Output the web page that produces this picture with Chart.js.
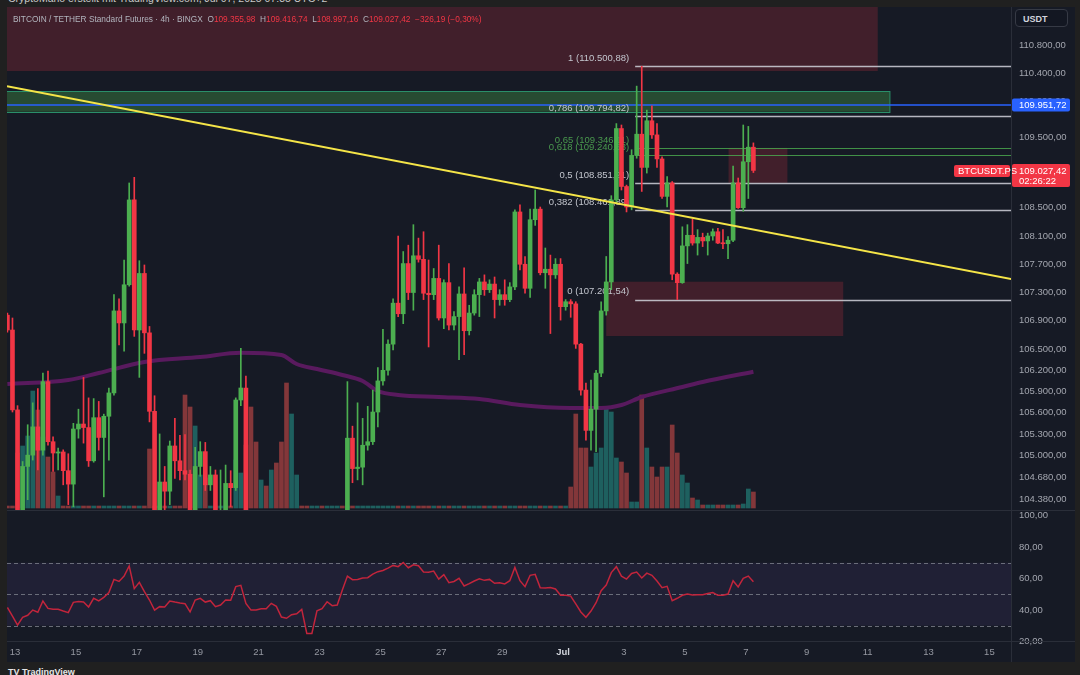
<!DOCTYPE html>
<html>
<head>
<meta charset="utf-8">
<title>BTCUSDT.PS 4h</title>
<script src="https://cdn.jsdelivr.net/npm/chart.js@4.4.1/dist/chart.umd.min.js"></script>
<style>
  html, body { margin: 0; padding: 0; }
  body { width: 1080px; height: 675px; background: #202020; position: relative; overflow: hidden;
         font-family: 'Liberation Sans', Arial, sans-serif; }
  #panel { position: absolute; left: 7px; top: 7px; width: 1068px; height: 655px; background: #161a25; }
  canvas { position: absolute; left: 7px; }
  #priceChart { top: 7px; }
  #rsiChart { top: 510px; }
  .sep { position: absolute; background: #2a2e39; }
  #watermark { position: absolute; left: 8px; top: -8px; font-size: 10.5px; color: #c9c9c9; white-space: nowrap; }
  #header { position: absolute; left: 13px; top: 14px; font-size: 8.3px; color: #b2b5be; white-space: pre; }
  #header .r { color: #f23645; }
  #unit { position: absolute; left: 1015px; top: 9px; width: 53px; height: 18px; border: 1px solid #363a45;
          border-radius: 4px; background: #131722; color: #d1d4dc; font-size: 9px; font-weight: bold;
          line-height: 18px; padding-left: 7px; box-sizing: border-box; }
  #logo { position: absolute; left: 8px; top: 667px; font-size: 9px; color: #e6e6e6; font-weight: bold; white-space: nowrap; }
</style>
</head>
<body>
<div id="panel"></div>
<canvas id="priceChart" width="1068" height="503"></canvas>
<canvas id="rsiChart" width="1068" height="152"></canvas>
<div class="sep" style="left:7px;top:510px;width:1068px;height:1px"></div>
<div class="sep" style="left:7px;top:641px;width:1068px;height:1px"></div>
<div class="sep" style="left:1011px;top:7px;width:1px;height:655px"></div>
<div id="watermark">CryptoMano erstellt mit TradingView.com, Jul 07, 2025 07:35 UTC+2</div>
<div id="header"></div>
<div id="unit">USDT</div>
<div id="logo">TV TradingView</div>
<script>
// 4h-Kerzen, Index 0 = 12. Juni 18:00 (UTC+2), Index 147 = 7. Juli 06:00
const candleOpen = [
  106980, 106770, 105640, 103940, 104840, 105000, 105400, 105070, 106040, 105190,
  105030, 105045, 104780, 104590, 105370, 105440, 105390, 104920, 105530, 105250,
  105550, 105880, 107040, 106870, 107410, 108610, 106770, 107570, 106730, 105620,
  104080, 104620, 104490, 105130, 104920, 104780, 104730, 104080, 104840, 105050,
  104580, 104720, 103950, 104150, 104600, 104540, 105780, 105950, 103900, 103500,
  103200, 103600, 103100, 103300, 102700, 102000, 100300, 101000, 101200, 99500,
  99000, 100600, 101900, 101500, 102100, 103400, 103800, 103600, 105240, 104810,
  104830, 105140, 105190, 105610, 106050, 106200, 106570, 107150, 107000, 107710,
  107300, 107820, 107770, 107290, 107270, 107500, 106940, 107440, 106840, 106960,
  107280, 106760, 107010, 107270, 107450, 107340, 107420, 107200, 107270, 107200,
  107380, 108440, 107700, 107360, 108330, 108480, 107580, 107630, 107550, 107700,
  107100, 107170, 107140, 106570, 105920, 105350, 105650, 106160, 107040, 107450,
  108610, 109620, 108800, 108510, 109240, 109540, 109070, 109730, 109530, 109190,
  108660, 108850, 107560, 107440, 107960, 108110, 108000, 108080, 108030, 108100,
  108160, 108000, 107990, 108040, 108850, 108500, 109150, 109355.98
];
const candleHigh = [
  107010, 106940, 105700, 104910, 105430, 105740, 105940, 106160, 106190, 105260,
  105100, 105075, 105020, 105450, 105650, 106100, 105810, 105800, 105760, 105580,
  105950, 107270, 107210, 107760, 108850, 108930, 107750, 107690, 106820, 105840,
  105300, 104840, 105200, 105520, 105280, 105290, 104790, 105110, 105190, 105180,
  104840, 104790, 104790, 104860, 104780, 105810, 106510, 106120, 104150, 103800,
  103900, 103800, 103500, 103400, 102900, 102200, 101400, 101600, 101300, 100200,
  100900, 102200, 102300, 102500, 103700, 104100, 104050, 106040, 105410, 105740,
  105520, 105690, 105920, 106240, 106780, 106630, 107210, 108100, 107880, 107970,
  108260, 108070, 108160, 107760, 107640, 107970, 107480, 107710, 107030, 107380,
  107650, 107120, 107340, 107500, 107550, 107480, 107520, 107340, 107480, 107440,
  108470, 108540, 107810, 108480, 108750, 108510, 107930, 107830, 107780, 107780,
  107200, 107200, 107170, 106580, 106020, 106060, 106200, 107170, 107810, 108670,
  109690, 109670, 108820, 109320, 110220, 110500, 109880, 109940, 109690, 109220,
  108940, 108870, 107580, 108230, 108260, 108340, 108190, 108140, 108140, 108200,
  108210, 108190, 108090, 109090, 108920, 109670, 109650, 109416.74
];
const candleLow = [
  106740, 105610, 103700, 103520, 104370, 104930, 104790, 105000, 105140, 104770,
  104790, 104580, 104300, 104270, 105240, 105170, 104840, 104900, 105070, 104410,
  104930, 105850, 106560, 106470, 107390, 106680, 106100, 106440, 105470, 103800,
  103800, 104100, 104300, 104670, 104650, 104650, 103940, 103940, 104700, 104500,
  104500, 103900, 103700, 104100, 104270, 104500, 105700, 103700, 103300, 102900,
  103000, 102900, 102800, 102500, 101700, 99600, 99800, 100500, 98800, 98200,
  98700, 100400, 101200, 101300, 102000, 103200, 103300, 103500, 104610, 104650,
  104580, 105070, 105150, 105400, 105990, 106130, 106490, 106960, 106860, 107200,
  107050, 107730, 107200, 106530, 107200, 106910, 106790, 106770, 106770, 106350,
  106420, 106700, 106980, 106960, 107260, 107300, 106940, 107120, 107120, 107170,
  107340, 107620, 107290, 107230, 108250, 107550, 107360, 106720, 107500, 106910,
  107050, 106950, 106510, 105850, 105210, 105070, 105050, 106110, 106980, 107340,
  108560, 108750, 108440, 108470, 109200, 108730, 108990, 109480, 109070, 108630,
  108510, 107480, 107200, 107430, 107710, 107970, 107830, 107950, 107830, 108040,
  107990, 107920, 107780, 108020, 108490, 108450, 108630, 108997.16
];
const candleClose = [
  106770, 105640, 103940, 104840, 105000, 105400, 105070, 106040, 105190, 105030,
  105045, 104780, 104590, 105370, 105440, 105390, 104920, 105530, 105250, 105550,
  105880, 107040, 106870, 107410, 108610, 106770, 107570, 106730, 105620, 104080,
  104620, 104490, 105130, 104920, 104780, 104730, 104080, 104840, 105050, 104580,
  104720, 104050, 104150, 104600, 104540, 105780, 105950, 103900, 103500, 103200,
  103600, 103100, 103300, 102700, 102000, 100300, 101000, 101200, 99500, 99000,
  100600, 101900, 101500, 102100, 103400, 103800, 103600, 105240, 104810, 104830,
  105140, 105190, 105610, 106050, 106200, 106570, 107150, 107000, 107710, 107300,
  107820, 107770, 107290, 107270, 107500, 106940, 107440, 106840, 106960, 107280,
  106760, 107010, 107270, 107450, 107340, 107420, 107200, 107270, 107200, 107380,
  108440, 107700, 107360, 108330, 108480, 107580, 107630, 107550, 107700, 107100,
  107170, 107140, 106570, 105920, 105350, 105650, 106160, 107040, 107450, 108610,
  109620, 108800, 108510, 109240, 109540, 109070, 109730, 109530, 109190, 108660,
  108850, 107560, 107440, 107960, 108110, 108000, 108080, 108030, 108100, 108160,
  108000, 107990, 108040, 108850, 108500, 109150, 109356, 109027.42
];
// Volumen (relative Einheiten)
const volume = [
  2, 2, 55, 62, 72, 117, 98, 71, 51, 36,
  12, 2, 2, 2, 2, 2, 2, 2, 2, 2,
  2, 2, 2, 2, 2, 2, 2, 2, 59, 2,
  2, 2, 2, 2, 2, 113, 101, 82, 33, 30,
  2, 2, 2, 2, 2, 48, 35, 63, 101, 66,
  28, 22, 38, 45, 66, 125, 94, 33, 2, 2,
  2, 2, 2, 2, 2, 2, 2, 2, 2, 2,
  2, 2, 2, 2, 2, 2, 2, 2, 2, 2,
  2, 2, 2, 2, 2, 2, 2, 2, 2, 2,
  2, 2, 2, 2, 2, 2, 2, 2, 2, 2,
  2, 2, 2, 2, 2, 2, 2, 2, 2, 2,
  2, 21, 94, 60, 60, 41, 55, 60, 101, 96,
  50, 46, 35, 6, 6, 113, 60, 41, 31, 41,
  41, 83, 55, 33, 25, 10, 8, 3, 3, 3,
  3, 3, 3, 3, 3, 4, 19, 16
];
const rsiValues = [
  41.6, 36.1, 30.4, 35.3, 36.6, 39.9, 38.5, 45.7, 41.0, 40.4,
  40.4, 39.3, 38.3, 44.8, 45.4, 45.0, 41.9, 47.4, 45.7, 48.0,
  51.0, 59.4, 58.1, 61.5, 67.9, 53.5, 57.5, 51.6, 46.3, 39.9,
  42.1, 41.9, 45.7, 45.0, 44.4, 44.0, 38.7, 46.3, 47.4, 45.0,
  45.9, 42.1, 43.1, 46.3, 46.1, 54.8, 55.6, 44.2, 39.9, 39.9,
  40.8, 40.8, 44.2, 42.3, 35.5, 34.7, 37.0, 37.6, 40.4, 25.1,
  25.1, 39.5, 40.8, 45.2, 42.7, 43.1, 52.6, 61.5, 59.2, 59.4,
  60.3, 60.5, 62.8, 64.3, 65.1, 66.6, 68.3, 67.5, 70.2, 66.8,
  68.7, 68.1, 64.1, 63.9, 64.7, 59.6, 62.4, 57.3, 58.1, 60.1,
  55.2, 56.7, 58.4, 59.8, 58.8, 59.4, 56.9, 57.3, 56.5, 58.6,
  67.0, 58.6, 54.8, 62.0, 62.6, 54.1, 53.9, 54.3, 53.3, 49.3,
  49.3, 48.8, 43.8, 38.7, 35.3, 39.3, 44.6, 52.2, 55.8, 63.7,
  67.5, 61.5, 59.6, 63.2, 64.1, 60.3, 63.4, 62.0, 58.4, 54.1,
  55.0, 45.9, 47.4, 49.3, 50.1, 49.5, 49.7, 49.7, 50.5, 51.0,
  49.3, 49.3, 50.1, 58.6, 54.6, 60.1, 61.5, 57.9
];
const maIndex = [0, 12, 18, 27, 38, 46, 54, 57, 61, 66, 70, 73, 77, 85, 93, 101, 111, 117, 121, 125, 133, 137, 147];
const maValues = [106006, 106063, 106162, 106318, 106388, 106449, 106417, 106289, 106218, 106134, 106049, 105907,
                  105851, 105822, 105794, 105709, 105667, 105667, 105709, 105822, 105964, 106035, 106180];

// Zeitachse
const dayTicks = [1.5, 13.5, 25.5, 37.5, 49.5, 61.5, 73.5, 85.5, 97.5, 109.5, 121.5, 133.5, 145.5, 157.5, 169.5, 181.5, 193.5];
const dayLabels = ['13', '15', '17', '19', '21', '23', '25', '27', '29', 'Jul', '3', '5', '7', '9', '11', '13', '15'];
const priceTicks = [110800, 110400, 110000, 109500, 108500, 108100, 107700, 107300, 106900, 106500,
                    106200, 105900, 105600, 105300, 105000, 104680, 104380];
const rsiTicks = [100, 80, 60, 40, 20];
const rsiBands = [70, 50, 30];

// Zeichnungen
const zoneKind = ['supply', 'demand', 'supply', 'supply'];
const zoneStart = [-5, -5, 118, 142.1];
const zoneEnd = [171.5, 173.9, 164.7, 153.7];
const zoneLow = [110433, 109858, 106685, 108851];
const zoneHigh = [112000, 110151, 107453, 109346];
const fibRatios = ['1', '0,786', '0,65', '0,618', '0,5', '0,382', '0'];
const fibPrices = [110500.88, 109794.82, 109346.11, 109240.53, 108851.21, 108461.89, 107201.54];
const fibStart = 123.7;
const trendX = [-0.08, 197.8];
const trendY = [110220, 107490];
const alertLevel = 109951.72;
const symbol = 'BTCUSDT.PS';
const countdown = '02:26:22';
const headerChange = '−326,19 (−0,30%)';

const FONT = "'Liberation Sans', Arial, sans-serif";
const X_MIN = -0.077, X_MAX = 197.76;
const UP = '#4caf50', DOWN = '#f23645';

function fmt(v, d = 2) {
  const s = Math.abs(v).toFixed(d).split('.');
  const int = s[0].replace(/\B(?=(\d{3})+(?!\d))/g, '.');
  return (v < 0 ? '−' : '') + int + (d ? ',' + s[1] : '');
}
const isUp = i => candleClose[i] >= candleOpen[i];

// Kopfzeile
const last = candleOpen.length - 1;
document.getElementById('header').innerHTML =
  'BITCOIN / TETHER Standard Futures · 4h · BINGX  ' +
  'O<span class="r">' + fmt(candleOpen[last]) + '</span>  ' +
  'H<span class="r">' + fmt(candleHigh[last]) + '</span>  ' +
  'L<span class="r">' + fmt(candleLow[last]) + '</span>  ' +
  'C<span class="r">' + fmt(candleClose[last]) + '</span>  ' +
  '<span class="r">' + headerChange + '</span>';

const drawingsPlugin = {
  id: 'drawings',
  beforeDatasetsDraw(chart) {
    const { ctx, chartArea: a, scales: { x, y } } = chart;
    ctx.save();
    ctx.beginPath();
    ctx.rect(a.left, a.top, a.right - a.left, a.bottom - a.top);
    ctx.clip();
    zoneKind.forEach((kind, i) => {
      const x0 = x.getPixelForValue(zoneStart[i]), x1 = x.getPixelForValue(zoneEnd[i]);
      const y0 = y.getPixelForValue(zoneHigh[i]), y1 = y.getPixelForValue(zoneLow[i]);
      ctx.fillStyle = kind === 'demand' ? 'rgba(76,175,80,0.33)' : 'rgba(242,54,69,0.2)';
      ctx.fillRect(x0, y0, x1 - x0, y1 - y0);
      if (kind === 'demand') {
        ctx.strokeStyle = '#2a8f6a';
        ctx.lineWidth = 1;
        ctx.strokeRect(x0, Math.round(y0) + 0.5, x1 - x0, Math.round(y1 - y0));
      }
    });
    // Alarmlinie
    const yb = y.getPixelForValue(alertLevel);
    ctx.strokeStyle = '#2962ff';
    ctx.lineWidth = 1.5;
    ctx.beginPath(); ctx.moveTo(a.left, yb); ctx.lineTo(a.right, yb); ctx.stroke();
    // Fibonacci
    const fx = x.getPixelForValue(fibStart);
    fibPrices.forEach((p, i) => {
      const green = fibRatios[i] === '0,65' || fibRatios[i] === '0,618';
      const fy = Math.round(y.getPixelForValue(p)) + 0.5;
      ctx.strokeStyle = green ? 'rgba(76,175,80,0.8)' : 'rgba(209,212,220,0.85)';
      ctx.lineWidth = green ? 1 : 1.5;
      ctx.beginPath(); ctx.moveTo(fx, fy); ctx.lineTo(a.right, fy); ctx.stroke();
    });
    ctx.font = `9.5px ${FONT}`;
    ctx.textAlign = 'right';
    ctx.textBaseline = 'bottom';
    fibPrices.forEach((p, i) => {
      const green = fibRatios[i] === '0,65' || fibRatios[i] === '0,618';
      ctx.fillStyle = green ? '#4a9a4e' : '#c3c6ce';
      ctx.fillText(`${fibRatios[i]} (${fmt(p)})`, fx - 6, y.getPixelForValue(p) - 3);
    });
    ctx.restore();
  },
  afterDraw(chart) {
    const { ctx, chartArea: a, scales: { y } } = chart;
    const ax = a.right + 1;
    ctx.save();
    ctx.font = `9.5px ${FONT}`;
    ctx.textAlign = 'left';
    ctx.textBaseline = 'middle';
    // Alarm-Label
    const yb = y.getPixelForValue(alertLevel);
    ctx.fillStyle = '#2962ff';
    ctx.beginPath(); ctx.roundRect(ax, yb - 6.5, 58, 13, 2); ctx.fill();
    ctx.fillStyle = '#ffffff';
    ctx.fillText(fmt(alertLevel), ax + 7, yb + 0.5);
    // letzter Kurs
    const yl = y.getPixelForValue(candleClose[last]);
    ctx.fillStyle = DOWN;
    ctx.beginPath(); ctx.roundRect(ax, yl - 6.5, 58, 23, 2); ctx.fill();
    ctx.beginPath(); ctx.roundRect(a.right - 57, yl - 5.5, 56, 12, 2); ctx.fill();
    ctx.fillStyle = '#ffffff';
    ctx.fillText(fmt(candleClose[last]), ax + 7, yl + 0.5);
    ctx.fillText(countdown, ax + 7, yl + 10.5);
    ctx.fillText(symbol, a.right - 53, yl + 0.5);
    ctx.restore();
  }
};

const priceChart = new Chart(document.getElementById('priceChart'), {
  type: 'bar',
  data: {
    datasets: [
      {
        type: 'line',
        data: trendX.map((v, i) => ({ x: v, y: trendY[i] })),
        borderColor: '#f5e548',
        borderWidth: 2,
        pointRadius: 0,
        order: 1
      },
      {
        data: candleOpen.map((o, i) => ({ x: i, y: [o, candleClose[i]] })),
        backgroundColor: c => isUp(c.dataIndex) ? UP : DOWN,
        barThickness: 4,
        minBarLength: 1,
        grouped: false,
        order: 3
      },
      {
        data: candleLow.map((l, i) => ({ x: i, y: [l, candleHigh[i]] })),
        backgroundColor: c => isUp(c.dataIndex) ? UP : DOWN,
        barThickness: 1,
        grouped: false,
        order: 4
      },
      {
        type: 'line',
        data: maIndex.map((k, i) => ({ x: k, y: maValues[i] })),
        borderColor: '#591a5e',
        borderWidth: 4,
        pointRadius: 0,
        cubicInterpolationMode: 'monotone',
        order: 5
      },
      {
        data: volume.map((v, i) => ({ x: i, y: v })),
        yAxisID: 'yVol',
        backgroundColor: c => isUp(c.dataIndex) ? 'rgba(38,166,154,0.5)' : 'rgba(239,83,80,0.5)',
        barThickness: 4,
        grouped: false,
        order: 6
      }
    ]
  },
  options: {
    responsive: false,
    animation: false,
    events: [],
    layout: { padding: 0 },
    plugins: { legend: { display: false }, tooltip: { enabled: false } },
    scales: {
      x: { type: 'linear', min: X_MIN, max: X_MAX, offset: false, grace: 0, display: false },
      y: {
        position: 'right',
        min: 104224,
        max: 111339,
        grid: { display: false, drawTicks: false },
        border: { display: false },
        afterBuildTicks: s => { s.ticks = priceTicks.map(v => ({ value: v })); },
        afterFit: s => { s.width = 64; s.paddingTop = 0; s.paddingBottom = 0; },
        ticks: { autoSkip: false, padding: 8, color: '#a3a6af', font: { family: FONT, size: 9.5 }, callback: v => fmt(v) }
      },
      yVol: { type: 'linear', min: -2, max: 501, display: false }
    }
  },
  plugins: [drawingsPlugin]
});

const rsiBandPlugin = {
  id: 'rsiBand',
  beforeDatasetsDraw(chart) {
    const { ctx, chartArea: a, scales: { y } } = chart;
    const top = y.getPixelForValue(rsiBands[0]), bottom = y.getPixelForValue(rsiBands[2]);
    ctx.save();
    ctx.fillStyle = 'rgba(126,87,194,0.1)';
    ctx.fillRect(a.left, top, a.right - a.left, bottom - top);
    ctx.strokeStyle = 'rgba(120,123,134,0.85)';
    ctx.lineWidth = 1;
    ctx.setLineDash([4, 3]);
    rsiBands.forEach(v => {
      const yy = Math.round(y.getPixelForValue(v)) + 0.5;
      ctx.beginPath(); ctx.moveTo(a.left, yy); ctx.lineTo(a.right, yy); ctx.stroke();
    });
    ctx.restore();
  }
};

const rsiChart = new Chart(document.getElementById('rsiChart'), {
  type: 'line',
  data: {
    datasets: [{
      data: rsiValues.map((v, i) => ({ x: i, y: v })),
      borderColor: '#c2253c',
      borderWidth: 1.5,
      pointRadius: 0,
      tension: 0
    }]
  },
  options: {
    responsive: false,
    animation: false,
    events: [],
    layout: { padding: 0 },
    plugins: { legend: { display: false }, tooltip: { enabled: false } },
    scales: {
      x: {
        type: 'linear',
        min: X_MIN,
        max: X_MAX,
        grid: { display: false, drawTicks: false },
        border: { display: false },
        afterBuildTicks: s => { s.ticks = dayTicks.map(v => ({ value: v })); },
        afterFit: s => { s.height = 22; s.paddingLeft = 0; s.paddingRight = 0; },
        ticks: {
          autoSkip: false,
          maxRotation: 0,
          padding: 7,
          color: c => c.index === 9 ? '#d1d4dc' : '#9598a1',
          font: c => ({ family: FONT, size: 9.5, weight: c.index === 9 ? 'bold' : 'normal' }),
          callback: (v, i) => dayLabels[i]
        }
      },
      y: {
        position: 'right',
        min: 20.9,
        max: 103.5,
        grid: { display: false, drawTicks: false },
        border: { display: false },
        afterBuildTicks: s => { s.ticks = rsiTicks.map(v => ({ value: v })); },
        afterFit: s => { s.width = 64; s.paddingTop = 0; s.paddingBottom = 0; },
        ticks: { autoSkip: false, padding: 8, color: '#a3a6af', font: { family: FONT, size: 9.5 }, callback: v => fmt(v) }
      }
    }
  },
  plugins: [rsiBandPlugin]
});
</script>
</body>
</html>
